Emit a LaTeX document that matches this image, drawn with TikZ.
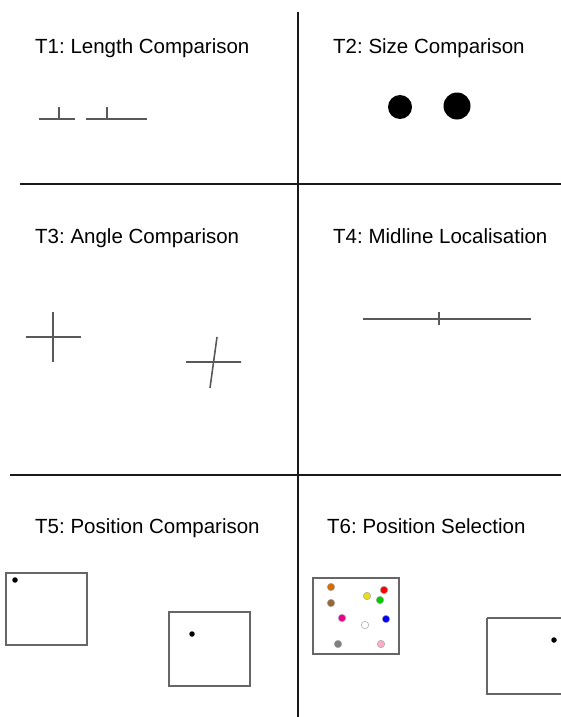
\documentclass[tikz,border=0pt]{standalone}
\usepackage{fontspec}
\setmainfont{Liberation Sans}
\frenchspacing
\begin{document}
\begin{tikzpicture}[x=1pt,y=-1pt,
                    divider/.style={line width=2.6pt,black!90},
                    stim/.style={line width=1.6pt,black!65},
                    frame/.style={line width=2pt,black!60},
                    title/.style={anchor=base west,inner sep=0pt,
                                  font=\fontsize{20.5}{24}\selectfont},
                    spot/.style={circle,fill,inner sep=0pt,minimum size=5.5pt},
                    cdot/.style={circle,draw=black!35,line width=.5pt,
                                 inner sep=0pt,minimum size=7.5pt}]
 \useasboundingbox (0,0) rectangle (561,717);
 % grid
 \draw[divider] (298,12)--(298,717);
 \draw[divider] (20,184)--(561,184);
 \draw[divider] (10,475)--(561,475);
 % titles
 \node[title] (t1) at (35,53) {T1: Length Comparison};
 \node[title] (t2) at (333,53) {T2: Size Comparison};
 \node[title] (t3) at (35,243) {T3: Angle Comparison};
 \node[title] (t4) at (333,243) {T4: Midline Localisation};
 \node[title] (t5) at (35,533) {T5: Position Comparison};
 \node[title] (t6) at (327,533) {T6: Position Selection};
 % T1
 \draw[stim] (39,119)--(75,119) (59,107)--(59,119);
 \draw[stim] (86,119)--(147,119) (107,107)--(107,119);
 % T2
 \fill (400,107) circle (12);
 \fill (457,106) circle (13.5);
 % T3
 \draw[stim] (26,337)--(81,337) (53,312)--(53,362);
 \draw[stim] (186,362)--(241,362) (217,337)--(210,388);
 % T4
 \draw[stim] (363,319)--(531,319);
 \draw[stim] (439,312)--(439,325);
 % T5
 \draw[frame] (6,573) rectangle (87,645);
 \node[spot] (p1) at (15,580) {};
 \draw[frame] (169,612) rectangle (250,686);
 \node[spot] (p2) at (192,634) {};
 % T6
 \draw[frame] (313,578) rectangle (399,654);
 \foreach \px/\py/\col [count=\k] in {331/587/orange!85!black,331/603/brown!80!black,
     367/596/yellow!90!black,384/590/red,380/600/green!80!black,342/618/magenta,
     365/625/white,386/619/blue,338/644/gray,381/644/pink!90!magenta}
   \node[cdot,fill=\col] (c\k) at (\px,\py) {};
 \draw[frame] (487,618)--(562,618) (487,618)--(487,694)--(562,694);
 \node[spot] (p3) at (554,640) {};
\end{tikzpicture}
\end{document}
